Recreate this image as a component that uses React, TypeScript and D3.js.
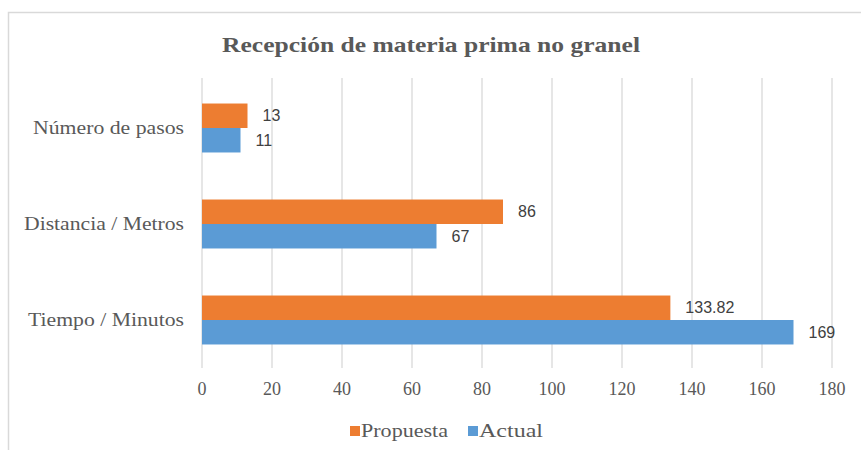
import React from 'react';
import * as d3 from 'd3';

// data
const categories = ['Número de pasos', 'Distancia / Metros', 'Tiempo / Minutos'];
const series = ['Propuesta', 'Actual'];
const propuesta = [13, 86, 133.82];
const actual = [11, 67, 169];
const xTicks = [0, 20, 40, 60, 80, 100, 120, 140, 160, 180];

const colors: Record<string, string> = { Propuesta: '#ED7D31', Actual: '#5B9BD5' };
const labelWidths = [151, 160, 156];

const W = 861;
const H = 450;
const serif = '"Liberation Serif", "Times New Roman", serif';
const sans = '"Liberation Sans", Arial, sans-serif';

const App = () => {
  const x = d3.scaleLinear().domain([0, 180]).range([202, 832]);
  const y = d3.scaleBand().domain(categories).range([80, 368]).paddingInner(0.49).paddingOuter(0.245);
  const sub = d3.scaleBand().domain(series).range([0, y.bandwidth()]);

  const rows = categories.map((c, i) => ({
    category: c,
    values: [
      { key: 'Propuesta', value: propuesta[i] },
      { key: 'Actual', value: actual[i] },
    ],
  }));

  return (
    <svg width={W} height={H} style={{ position: 'absolute', left: 0, top: 0, background: '#fff' }}>
      {/* chart border */}
      <rect x={8.5} y={12.5} width={W} height={H} fill="#fff" stroke="#D9D9D9" strokeWidth={1.5} />

      <text x={431} y={52} textAnchor="middle" fontFamily={serif} fontWeight="bold" fontSize={22}
        fill="#595959" textLength={418} lengthAdjust="spacingAndGlyphs">
        Recepción de materia prima no granel
      </text>

      {/* gridlines */}
      {xTicks.map(t => (
        <line key={t} x1={x(t)} x2={x(t)} y1={78} y2={368} stroke="#D9D9D9" strokeWidth={1.3} />
      ))}

      {/* bars */}
      {rows.map(r => (
        <g key={r.category} transform={`translate(0,${y(r.category)})`}>
          {r.values.map(v => (
            <g key={v.key}>
              <rect x={x(0)} y={sub(v.key)} width={x(v.value) - x(0)} height={sub.bandwidth()}
                fill={colors[v.key]} />
              <text x={x(v.value) + 15} y={(sub(v.key) as number) + sub.bandwidth() / 2} dy="0.35em"
                fontFamily={sans} fontSize={16} fill="#404040">
                {v.value}
              </text>
            </g>
          ))}
        </g>
      ))}

      {/* category labels */}
      {categories.map((c, i) => (
        <text key={c} x={184} y={(y(c) as number) + y.bandwidth() / 2} dy="0.35em" textAnchor="end"
          fontFamily={serif} fontSize={18} fill="#595959" textLength={labelWidths[i]}
          lengthAdjust="spacingAndGlyphs">
          {c}
        </text>
      ))}

      {/* x tick labels */}
      {xTicks.map(t => (
        <text key={t} x={x(t)} y={389} dy="0.35em" textAnchor="middle" fontFamily={serif}
          fontSize={18} fill="#595959">
          {t}
        </text>
      ))}

      {/* legend */}
      <rect x={350} y={426} width={10} height={10} fill={colors.Propuesta} />
      <text x={361} y={431} dy="0.35em" fontFamily={serif} fontSize={18} fill="#595959"
        textLength={87} lengthAdjust="spacingAndGlyphs">Propuesta</text>
      <rect x={468} y={426} width={10} height={10} fill={colors.Actual} />
      <text x={479} y={431} dy="0.35em" fontFamily={serif} fontSize={18} fill="#595959"
        textLength={64} lengthAdjust="spacingAndGlyphs">Actual</text>
    </svg>
  );
};

export default App;
